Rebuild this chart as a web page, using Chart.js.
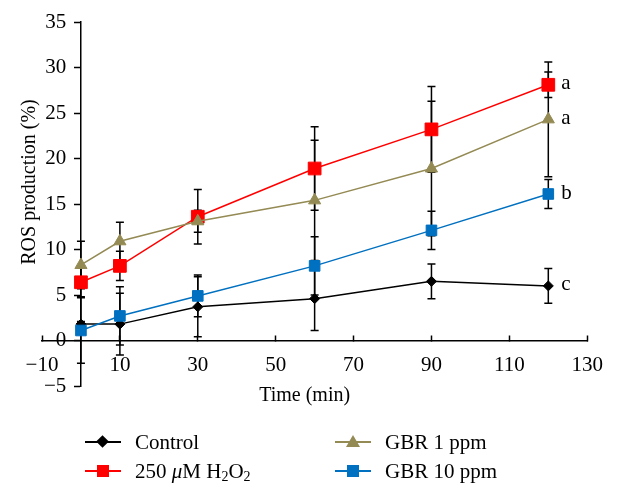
<!DOCTYPE html>
<html>
<head>
<meta charset="utf-8">
<script src="https://cdn.jsdelivr.net/npm/chart.js"></script>
<style>
  body { margin: 0; background: #fff; }
  #wrap { position: relative; width: 621px; height: 494px; }
  .lg { position: absolute; height: 24px; font: 21px 'Liberation Serif', serif; color: #000; }
  .lg .ln { position: absolute; top: 11px; height: 2px; width: 36px; left: 0; }
  .lg .mk { position: absolute; }
  .lg .tx { position: absolute; left: 50px; top: 0; white-space: nowrap; line-height: 24px; }
  .lg sub { font-size: 14px; vertical-align: -3px; line-height: 0; }
</style>
</head>
<body>
<div id="wrap">
  <canvas id="rosChart"></canvas>
</div>
<script>
// time points (min)
const times = [0, 10, 30, 60, 90, 120];

// ROS production (%)
const control = [1.8, 1.8, 3.7, 4.6, 6.5, 6.0];
const h2o2    = [6.4, 8.2, 13.6, 18.9, 23.2, 28.1];
const gbr1    = [8.3, 10.9, 13.1, 15.4, 18.9, 24.3];
const gbr10   = [1.1, 2.7, 4.9, 8.2, 12.1, 16.1];

// error bars (+/-)
const errControl = [0.3, 3.4, 3.3, 3.5, 1.9, 1.9];
const errH2o2    = [1.6, 1.6, 3.0, 4.6, 4.7, 1.4];
const errGbr1    = [2.6, 2.1, 1.2, 6.6, 7.4, 6.3];
const errGbr10   = [3.6, 3.2, 2.3, 3.2, 2.1, 1.6];

// significance letters at the last time point
const letters = ['c', 'a', 'a', 'b'];

const names = ['Control', '250 <i>\u03bc</i>M H<sub>2</sub>O<sub>2</sub>', 'GBR 1 ppm', 'GBR 10 ppm'];
const colors = ['#000000', '#ff0000', '#948a54', '#0070c0'];
const styles = ['rectRot', 'rect', 'triangle', 'rect'];
const radii = [5, 9, 7, 7.5];

const xTicks = { min: -10, max: 130, step: 20 };
const yTicks = { min: -5, max: 35, step: 5 };

const series = [control, h2o2, gbr1, gbr10];
const errors = [errControl, errH2o2, errGbr1, errGbr10];

const FONT = "'Liberation Serif', 'DejaVu Serif', serif";
Chart.defaults.font.family = FONT;
Chart.defaults.font.size = 21;
Chart.defaults.color = '#000';

function fmt(v) {
  return String(v).replace('-', '\u2212');
}

const extras = {
  id: 'extras',
  beforeDatasetsDraw(chart) {
    const ctx = chart.ctx, xs = chart.scales.x, ys = chart.scales.y;
    ctx.save();
    ctx.strokeStyle = '#000';
    ctx.lineWidth = 1.5;
    series.forEach((vals, s) => {
      vals.forEach((v, i) => {
        const e = errors[s][i];
        const px = xs.getPixelForValue(times[i]);
        const top = ys.getPixelForValue(v + e);
        const bot = ys.getPixelForValue(v - e);
        ctx.beginPath();
        ctx.moveTo(px, top); ctx.lineTo(px, bot);
        ctx.moveTo(px - 4, top); ctx.lineTo(px + 4, top);
        ctx.moveTo(px - 4, bot); ctx.lineTo(px + 4, bot);
        ctx.stroke();
      });
    });
    ctx.restore();
  },
  afterDraw(chart) {
    const ctx = chart.ctx, xs = chart.scales.x, ys = chart.scales.y;
    const area = chart.chartArea;
    ctx.save();
    ctx.fillStyle = '#000';
    ctx.font = '21px ' + FONT;
    ctx.textBaseline = 'middle';
    ctx.textAlign = 'left';
    const last = times.length - 1;
    series.forEach((vals, s) => {
      ctx.fillText(letters[s], xs.getPixelForValue(times[last]) + 13, ys.getPixelForValue(vals[last]) - 1);
    });
    ctx.font = '20px ' + FONT;
    ctx.textAlign = 'center';
    ctx.fillText('Time (min)', (area.left + area.right) / 2 - 10, 396);
    ctx.translate(30, 182);
    ctx.rotate(-Math.PI / 2);
    ctx.fillText('ROS production (%)', 0, 0);
    ctx.restore();
  }
};

new Chart(document.getElementById('rosChart'), {
  type: 'line',
  data: {
    datasets: series.map((vals, s) => ({
      label: names[s],
      data: vals.map((v, i) => ({ x: times[i], y: v })),
      borderColor: colors[s],
      backgroundColor: colors[s],
      borderWidth: 1.5,
      pointStyle: styles[s],
      pointRadius: radii[s],
      pointBorderWidth: 1,
      order: series.length - s,
      tension: 0
    }))
  },
  options: {
    responsive: true,
    maintainAspectRatio: false,
    animation: false,
    layout: { padding: { left: 42, right: 28, top: 22, bottom: 108 } },
    plugins: { legend: { display: false }, tooltip: { enabled: false } },
    scales: {
      x: {
        type: 'linear',
        position: { y: 0 },
        min: xTicks.min, max: xTicks.max,
        ticks: { stepSize: xTicks.step, padding: 18, maxRotation: 0, callback: fmt },
        grid: { drawOnChartArea: false, tickLength: -6, color: '#000', tickWidth: 1.5 },
        border: { color: '#000', width: 1.5 }
      },
      y: {
        position: { x: 0 },
        min: yTicks.min, max: yTicks.max,
        ticks: { stepSize: yTicks.step, callback: v => fmt(v) + '\u2002\u2009' },
        grid: { drawOnChartArea: false, tickLength: 6, color: '#000', tickWidth: 1.5 },
        border: { color: '#000', width: 1.5 }
      }
    }
  },
  plugins: [extras]
});

// legend below the plot
const wrap = document.getElementById('wrap');
const spots = [[85, 430], [85, 459], [335, 430], [335, 459]];
names.forEach((n, s) => {
  const d = document.createElement('div');
  d.className = 'lg';
  d.style.left = spots[s][0] + 'px';
  d.style.top = spots[s][1] + 'px';
  let mk;
  if (styles[s] === 'rectRot') {
    mk = 'left:13px;top:7px;width:9px;height:9px;transform:rotate(45deg);background:' + colors[s];
  } else if (styles[s] === 'triangle') {
    mk = 'left:11px;top:5px;width:14px;height:12px;clip-path:polygon(50% 0,100% 100%,0 100%);background:' + colors[s];
  } else {
    mk = 'left:12px;top:6px;width:12px;height:12px;background:' + colors[s];
  }
  d.innerHTML = '<div class="ln" style="background:' + colors[s] + '"></div>' +
    '<div class="mk" style="' + mk + '"></div><div class="tx">' + n + '</div>';
  wrap.appendChild(d);
});
</script>
</body>
</html>
